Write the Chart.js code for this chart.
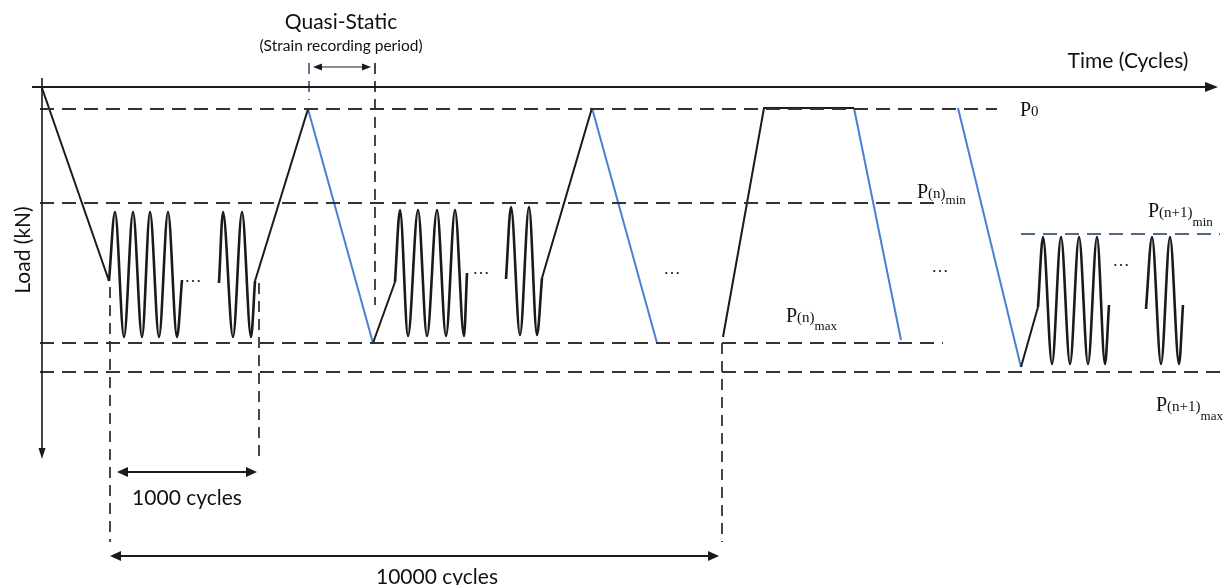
<!DOCTYPE html>
<html>
<head>
<meta charset="utf-8">
<title>Load schedule</title>
<script src="https://cdn.jsdelivr.net/npm/chart.js@4/dist/chart.umd.min.js"></script>
<style>
    html, body { margin: 0; padding: 0; background: #ffffff; }
    #load-chart { display: block; }
</style>
</head>
<body>
<canvas id="load-chart" width="1227" height="585"></canvas>
<script>
// time runs left to right, load grows downwards (schematic units)
const loadLevels = [109, 203, 343, 234, 372];          // P0, P(n)min, P(n)max, P(n+1)min, P(n+1)max
const levelSpans = [[40, 997], [40, 943], [40, 943], [1021, 1220], [40, 1224]];
const levelColors = ['#333333', '#333333', '#333333', '#52688a', '#333333'];

// quasi-static ramps, black = loading, blue = unloading
const loadingRamps = [
    [[42, 88], [109, 281]],
    [[255, 281], [308, 109]],
    [[373, 343], [395, 282]],
    [[542, 278], [592, 108]],
    [[723, 337], [764, 108], [854, 108]],
    [[1021, 367], [1038, 307]],
];
const unloadingRamps = [
    [[308, 109], [373, 343]],
    [[592, 108], [657, 343]],
    [[854, 108], [901, 340]],
    [[958, 108], [1021, 367]],
];

// cyclic blocks: turning points (time, load)
const cycleTimes = [
    [109, 115, 124, 133, 142, 150, 159, 168, 177, 182],
    [219, 223, 233, 242, 251, 255],
    [395, 400, 408, 418, 427, 437, 446, 455, 464, 467],
    [506, 511, 520, 529, 537, 542],
    [1038, 1043, 1052, 1061, 1070, 1079, 1088, 1097, 1105, 1109],
    [1146, 1152, 1161, 1170, 1179, 1183],
];
const cycleLoads = [
    [281, 212, 337, 212, 337, 212, 337, 212, 337, 280],
    [283, 212, 337, 212, 337, 281],
    [282, 210, 336, 210, 336, 210, 336, 210, 336, 273],
    [279, 207, 335, 207, 335, 278],
    [307, 237, 364, 237, 364, 237, 364, 237, 364, 305],
    [309, 237, 364, 237, 364, 305],
];

// vertical markers (time, from load, to load)
const markerTimes = [110, 259, 722, 375, 309];
const markerFrom = [287, 283, 343, 63, 63];
const markerTo = [542, 460, 542, 305, 100];

const BLACK = '#1a1a1a';
const BLUE = '#4a7fd4';
const DASH = '#333333';
const SANS = 'Lato, "Open Sans", sans-serif';

function toPoints(pairs) {
    return pairs.map(([x, y]) => ({ x, y }));
}

const datasets = [];

// axes
datasets.push({ data: toPoints([[32, 87], [1208, 87]]), borderColor: BLACK, borderWidth: 2 });
datasets.push({ data: toPoints([[42, 78], [42, 450]]), borderColor: BLACK, borderWidth: 1.6 });

loadLevels.forEach((level, i) => {
    datasets.push({
        data: toPoints([[levelSpans[i][0], level], [levelSpans[i][1], level]]),
        borderColor: levelColors[i],
        borderWidth: 2,
        borderDash: [14, 8],
    });
});

markerTimes.forEach((t, i) => {
    datasets.push({
        data: toPoints([[t, markerFrom[i]], [t, markerTo[i]]]),
        borderColor: i === 4 ? '#52688a' : DASH,
        borderWidth: 1.8,
        borderDash: [11, 7],
    });
});

loadingRamps.forEach(seg => {
    datasets.push({ data: toPoints(seg), borderColor: BLACK, borderWidth: 2 });
});
unloadingRamps.forEach(seg => {
    datasets.push({ data: toPoints(seg), borderColor: BLUE, borderWidth: 2 });
});

cycleTimes.forEach((times, i) => {
    datasets.push({
        data: times.map((x, j) => ({ x, y: cycleLoads[i][j] })),
        borderColor: BLACK,
        borderWidth: 2.6,
        cubicInterpolationMode: 'monotone',
    });
});

function arrowHead(ctx, x, y, dx, dy, len, half) {
    const n = Math.hypot(dx, dy);
    const ux = dx / n;
    const uy = dy / n;
    ctx.beginPath();
    ctx.moveTo(x, y);
    ctx.lineTo(x - ux * len - uy * half, y - uy * len + ux * half);
    ctx.lineTo(x - ux * len + uy * half, y - uy * len - ux * half);
    ctx.closePath();
    ctx.fill();
}

function pLabel(ctx, x, y, parts) {
    let cx = x;
    parts.forEach(p => {
        ctx.font = p.size + 'px "Liberation Serif", "DejaVu Serif", serif';
        ctx.textAlign = 'left';
        ctx.textBaseline = 'alphabetic';
        ctx.fillText(p.text, cx, y + (p.dy || 0));
        cx += ctx.measureText(p.text).width;
    });
}

const annotations = {
    id: 'annotations',
    afterDatasetsDraw(chart) {
        const { ctx } = chart;
        const sx = v => chart.scales.x.getPixelForValue(v);
        const sy = v => chart.scales.y.getPixelForValue(v);
        ctx.save();
        ctx.fillStyle = BLACK;
        ctx.strokeStyle = BLACK;

        // axis arrows
        arrowHead(ctx, sx(1218), sy(87), 1, 0, 13, 5);
        arrowHead(ctx, sx(42), sy(459), 0, 1, 11, 3.5);

        // dimension arrows
        const dims = [[313, 371, 67, 1.2, 9, 3.5], [117, 257, 472, 2, 11, 5], [110, 719, 556, 2, 11, 5]];
        dims.forEach(([a, b, y, w, len, half]) => {
            ctx.lineWidth = w;
            ctx.beginPath();
            ctx.moveTo(sx(a) + len - 2, sy(y));
            ctx.lineTo(sx(b) - len + 2, sy(y));
            ctx.stroke();
            arrowHead(ctx, sx(a), sy(y), -1, 0, len, half);
            arrowHead(ctx, sx(b), sy(y), 1, 0, len, half);
        });

        // sans texts
        ctx.fillStyle = '#111111';
        ctx.textAlign = 'center';
        ctx.textBaseline = 'middle';
        ctx.font = '21px ' + SANS;
        ctx.fillText('Quasi-Static', sx(341), sy(22));
        ctx.fillText('Time (Cycles)', sx(1128), sy(61));
        ctx.fillText('1000 cycles', sx(187), sy(498));
        ctx.fillText('10000 cycles', sx(437), sy(577));
        ctx.font = '15.5px ' + SANS;
        ctx.fillText('(Strain recording period)', sx(341), sy(46));

        ctx.save();
        ctx.translate(sx(23), sy(250));
        ctx.rotate(-Math.PI / 2);
        ctx.font = '21px ' + SANS;
        ctx.fillText('Load (kN)', 0, 0);
        ctx.restore();

        // ellipses between cycle blocks
        ctx.font = '17px "Liberation Serif", serif';
        [[193, 278], [481, 270], [672, 270], [940, 268], [1121, 262]].forEach(([x, y]) => {
            ctx.fillText('…', sx(x), sy(y));
        });

        // load level labels
        ctx.fillStyle = '#111111';
        pLabel(ctx, sx(1020), sy(116), [{ text: 'P', size: 20 }, { text: '0', size: 15 }]);
        pLabel(ctx, sx(917), sy(198), [{ text: 'P', size: 20 }, { text: '(n)', size: 15 }, { text: 'min', size: 13, dy: 6 }]);
        pLabel(ctx, sx(786), sy(322), [{ text: 'P', size: 20 }, { text: '(n)', size: 15 }, { text: 'max', size: 13, dy: 8 }]);
        pLabel(ctx, sx(1148), sy(217), [{ text: 'P', size: 20 }, { text: '(n+1)', size: 15 }, { text: 'min', size: 13, dy: 9 }]);
        pLabel(ctx, sx(1156), sy(411), [{ text: 'P', size: 20 }, { text: '(n+1)', size: 15 }, { text: 'max', size: 13, dy: 9 }]);

        ctx.restore();
    },
};

new Chart(document.getElementById('load-chart'), {
    type: 'scatter',
    data: { datasets },
    options: {
        responsive: false,
        animation: false,
        devicePixelRatio: 1,
        showLine: true,
        layout: { padding: 0 },
        elements: {
            point: { radius: 0, hoverRadius: 0 },
            line: { fill: false, tension: 0 },
        },
        scales: {
            x: { type: 'linear', min: 0, max: 1227, display: false },
            y: { type: 'linear', min: 0, max: 585, reverse: true, display: false },
        },
        plugins: {
            legend: { display: false },
            tooltip: { enabled: false },
        },
    },
    plugins: [annotations],
});
</script>
</body>
</html>
